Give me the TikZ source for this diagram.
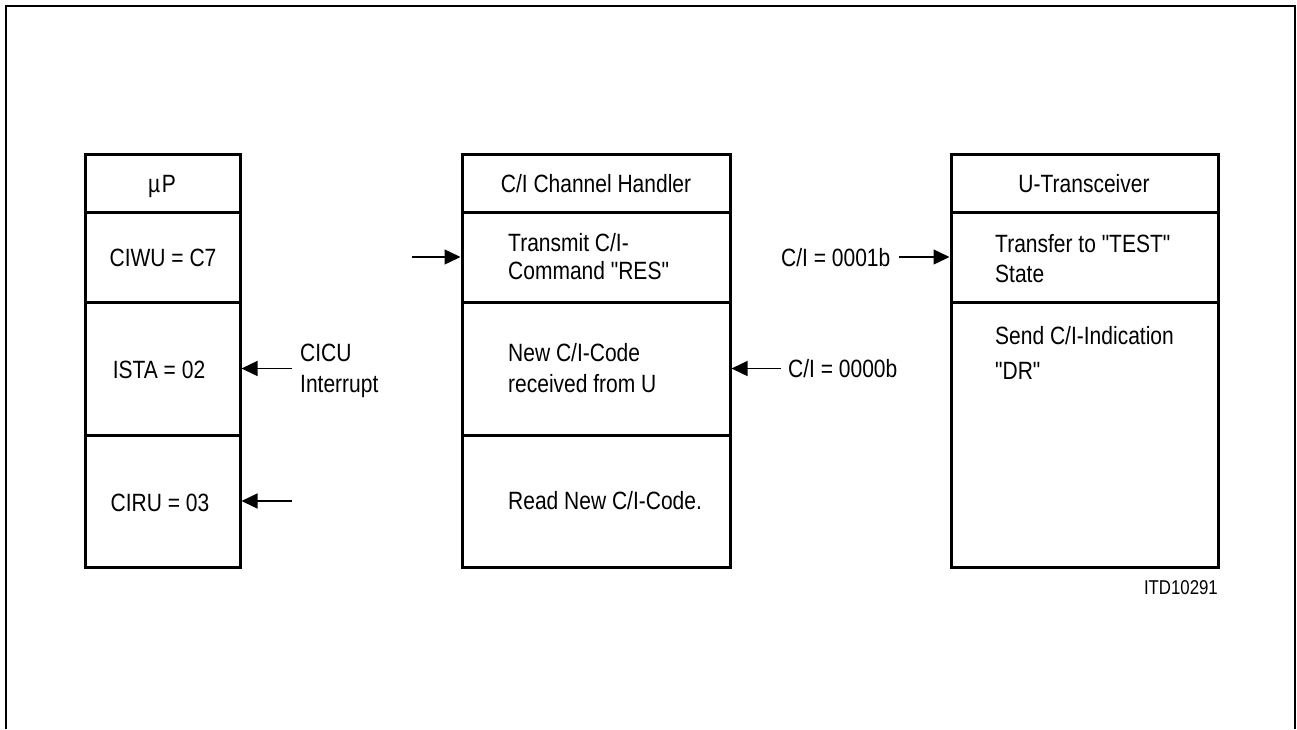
\documentclass[tikz,border=0pt]{standalone}
\usepackage{fontspec}
\setmainfont[FakeStretch=0.84,Ligatures=TeXOff]{Liberation Sans}
\usetikzlibrary{arrows.meta}
\begin{document}
\begin{tikzpicture}[x=1pt,y=-1pt,
  cell/.style={draw,line width=3pt,rectangle,inner sep=0pt},
  txt/.style={inner sep=0pt,font=\fontsize{25}{30}\selectfont},
  small/.style={inner sep=0pt,font=\fontsize{20}{24}\selectfont},
  arr/.style={line width=1.4pt,-{Triangle[length=16pt,width=15pt]}},
  frame/.style={line width=2.3pt}]
\useasboundingbox (0,0) rectangle (1297,729);
% outer frame (open at the bottom)
\coordinate (f1) at (6,729);
\coordinate (f2) at (6,6);
\coordinate (f3) at (1295,6);
\coordinate (f4) at (1295,729);
\draw[frame] (f1) -- (f2) -- (f3) -- (f4);
% uP column
\node[cell,minimum width=155pt,minimum height=58pt]  (p1) at (162.5,183) {};
\node[cell,minimum width=155pt,minimum height=90pt]  (p2) at (162.5,257) {};
\node[cell,minimum width=155pt,minimum height=133pt] (p3) at (162.5,368.5) {};
\node[cell,minimum width=155pt,minimum height=132pt] (p4) at (162.5,501) {};
% C/I column
\node[cell,minimum width=268pt,minimum height=58pt]  (c1) at (596,183) {};
\node[cell,minimum width=268pt,minimum height=90pt]  (c2) at (596,257) {};
\node[cell,minimum width=268pt,minimum height=133pt] (c3) at (596,368.5) {};
\node[cell,minimum width=268pt,minimum height=132pt] (c4) at (596,501) {};
% U column
\node[cell,minimum width=267pt,minimum height=58pt]  (u1) at (1084.5,183) {};
\node[cell,minimum width=267pt,minimum height=90pt]  (u2) at (1084.5,257) {};
\node[cell,minimum width=267pt,minimum height=265pt] (u3) at (1084.5,434.5) {};
% texts
\node[txt,anchor=base] (tp1) at (162,192) {µ\kern1.5pt P};
\node[txt,anchor=base] (tp2) at (163,266) {CIWU = C7};
\node[txt,anchor=base] (tp3) at (159,378) {ISTA = 02};
\node[txt,anchor=base] (tp4) at (160,511) {CIRU = 03};
\node[txt,anchor=base west] (ti1) at (300,361) {CICU};
\node[txt,anchor=base west] (ti2) at (300,392) {Interrupt};
\node[txt,anchor=base] (tc1) at (596,192) {C/I Channel Handler};
\node[txt,anchor=base west] (tc2a) at (508,251) {Transmit C/I-};
\node[txt,anchor=base west] (tc2b) at (508,279) {Command "RES"};
\node[txt,anchor=base west] (tc3a) at (508,361) {New C/I-Code};
\node[txt,anchor=base west] (tc3b) at (508,392) {received from U};
\node[txt,anchor=base west] (tc4) at (508,509) {Read New C/I-Code.};
\node[txt,anchor=base west] (tl1) at (781,266) {C/I = 0001b};
\node[txt,anchor=base west] (tl0) at (788,377) {C/I = 0000b};
\node[txt,anchor=base] (tu1) at (1084,192) {U-Transceiver};
\node[txt,anchor=base west] (tu2a) at (995,252) {Transfer to "TEST"};
\node[txt,anchor=base west] (tu2b) at (995,282) {State};
\node[txt,anchor=base west] (tu3a) at (995,344) {Send C/I-Indication};
\node[txt,anchor=base west] (tu3b) at (995,379) {"DR"};
\node[small,anchor=base east] (itd) at (1218,594) {ITD10291};
% arrows
\coordinate (a1) at (292,368.5);
\coordinate (a2) at (292,501);
\coordinate (a3) at (412,257);
\coordinate (a4) at (899,257);
\coordinate (a5) at (781,368.5);
\draw[arr] (a1) -- (p3.east);
\draw[arr] (a2) -- (p4.east);
\draw[arr] (a3) -- (c2.west);
\draw[arr] (a4) -- (u2.west);
\draw[arr] (a5) -- (c3.east);
\end{tikzpicture}
\end{document}
